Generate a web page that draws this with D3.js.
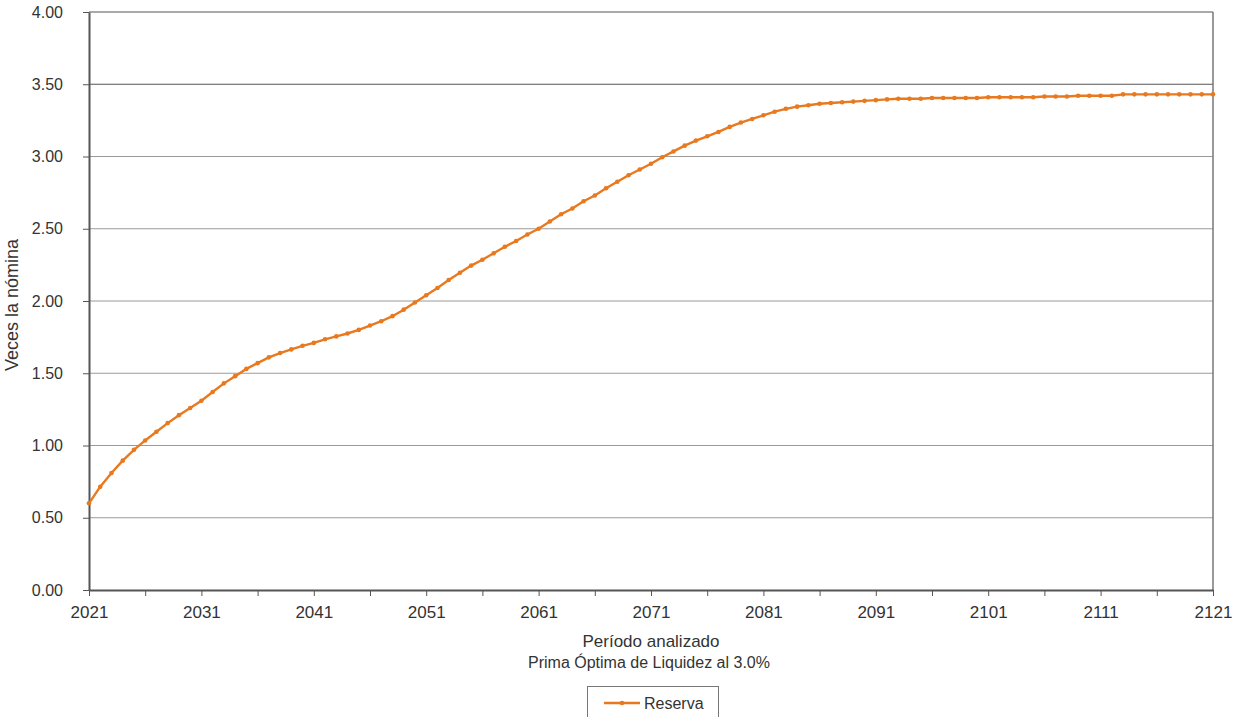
<!DOCTYPE html>
<html><head><meta charset="utf-8">
<script src="https://cdn.jsdelivr.net/npm/d3@7"></script>
<style>body{margin:0;background:#fff;}svg{display:block;font-family:"Liberation Sans",Arial,sans-serif;}</style>
</head><body>
<svg id="c" width="1238" height="717"></svg>
<script>
const years = d3.range(2021, 2122);
const reserva = [
 0.60,0.715,0.81,0.895,0.97,1.035,1.095,1.155,1.21,1.26,
 1.31,1.37,1.43,1.48,1.53,1.57,1.61,1.64,1.665,1.69,
 1.71,1.735,1.755,1.775,1.80,1.83,1.86,1.895,1.94,1.99,
 2.04,2.09,2.145,2.195,2.245,2.285,2.33,2.375,2.415,2.46,
 2.50,2.55,2.60,2.64,2.69,2.73,2.78,2.825,2.87,2.91,
 2.95,2.995,3.035,3.075,3.11,3.14,3.17,3.205,3.235,3.26,
 3.285,3.31,3.33,3.345,3.355,3.365,3.37,3.375,3.38,3.385,
 3.39,3.395,3.40,3.40,3.40,3.405,3.405,3.405,3.405,3.405,
 3.41,3.41,3.41,3.41,3.41,3.415,3.415,3.415,3.42,3.42,
 3.42,3.42,3.43,3.43,3.43,3.43,3.43,3.43,3.43,3.43,3.43
];
const yTicks = [0,0.5,1,1.5,2,2.5,3,3.5,4];
const xLabelYears = d3.range(2021, 2122, 10);
const xTickYears = d3.range(2021, 2122, 5);
const seriesName = "Reserva";
const xTitle = "Período analizado";
const subTitle = "Prima Óptima de Liquidez al 3.0%";
const yTitle = "Veces la nómina";

const svg = d3.select("#c");
const L = 89, R = 1213, T = 12, B = 590;
const x = d3.scaleLinear().domain([2021, 2121]).range([L, R]);
const y = d3.scaleLinear().domain([0, 4]).range([B, T]);

// gridlines
svg.append("g").selectAll("line").data(yTicks.filter(d=>d>0)).join("line")
  .attr("x1", L).attr("x2", R).attr("y1", d=>y(d)).attr("y2", d=>y(d))
  .attr("stroke", d => d>=3.5 ? "#555" : "#9a9a9a").attr("stroke-width", d=> d>=3.5 ? 1.2 : 1);

// right border
svg.append("line").attr("x1", R).attr("x2", R).attr("y1", T).attr("y2", B)
  .attr("stroke", "#777").attr("stroke-width", 1.5);

// y axis
const ya = svg.append("g").attr("transform", `translate(${L},0)`)
  .call(d3.axisLeft(y).tickValues(yTicks).tickFormat(d3.format(".2f")).tickSize(6).tickSizeOuter(0));
ya.select(".domain").attr("stroke", "#555").attr("stroke-width", 2);
ya.selectAll(".tick line").attr("stroke", "#555");
ya.selectAll("text").attr("font-size", 16).attr("fill", "#333").attr("x", -26)
  .attr("font-family", "Liberation Sans, Arial, sans-serif");

// x axis
const xa = svg.append("g").attr("transform", `translate(0,${B})`)
  .call(d3.axisBottom(x).tickValues(xTickYears).tickFormat(d => xLabelYears.includes(d) ? String(d) : "").tickSize(6).tickSizeOuter(0));
xa.select(".domain").attr("stroke", "#555").attr("stroke-width", 2);
xa.selectAll(".tick line").attr("stroke", "#555");
xa.selectAll("text").attr("font-size", 17).attr("fill", "#333").attr("y", 16)
  .attr("font-family", "Liberation Sans, Arial, sans-serif");

// line
const color = "#E8791E";
const data = years.map((yr,i)=>({yr, v: reserva[i]}));
svg.append("path").datum(data)
  .attr("fill", "none").attr("stroke", color).attr("stroke-width", 2.4)
  .attr("d", d3.line().x(d=>x(d.yr)).y(d=>y(d.v)));
svg.append("g").selectAll("circle").data(data).join("circle")
  .attr("cx", d=>x(d.yr)).attr("cy", d=>y(d.v)).attr("r", 2.3).attr("fill", color);

// titles
svg.append("text").attr("x", 651).attr("y", 647).attr("text-anchor", "middle")
  .attr("font-size", 17).attr("fill", "#333").text(xTitle);
svg.append("text").attr("x", 649).attr("y", 668).attr("text-anchor", "middle")
  .attr("font-size", 16).attr("fill", "#333").text(subTitle);
svg.append("text").attr("transform", "translate(18,305) rotate(-90)").attr("text-anchor", "middle")
  .attr("font-size", 18).attr("fill", "#333").text(yTitle);

// legend
const lg = svg.append("g");
lg.append("rect").attr("x", 587.5).attr("y", 686.5).attr("width", 131).attr("height", 40)
  .attr("fill", "#fff").attr("stroke", "#777").attr("stroke-width", 1);
lg.append("line").attr("x1", 604).attr("x2", 640).attr("y1", 703).attr("y2", 703)
  .attr("stroke", color).attr("stroke-width", 2.4);
lg.append("circle").attr("cx", 622).attr("cy", 703).attr("r", 2.3).attr("fill", color);
lg.append("text").attr("x", 644).attr("y", 709).attr("font-size", 16).attr("fill", "#333").text(seriesName);
</script>
</body></html>
